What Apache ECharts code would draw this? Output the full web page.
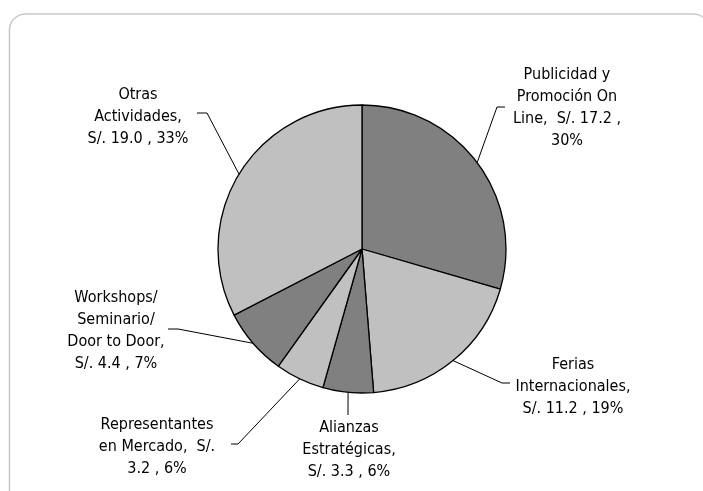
<!DOCTYPE html>
<html>
<head>
<meta charset="utf-8">
<script src="https://cdn.jsdelivr.net/npm/echarts@6/dist/echarts.min.js"></script>
<style>
  html, body { margin: 0; padding: 0; background: #fff; }
  #chart { width: 703px; height: 491px; }
</style>
</head>
<body>
<div id="chart"></div>
<script>
// datos
var categories = ['Publicidad y Promoción On Line', 'Ferias Internacionales', 'Alianzas Estratégicas',
                  'Representantes en Mercado', 'Workshops/ Seminario/ Door to Door', 'Otras Actividades'];
var values = [17.2, 11.2, 3.3, 3.2, 4.4, 19.0];
var percents = ['30%', '19%', '6%', '6%', '7%', '33%'];
var labelTexts = [
  'Publicidad y\nPromoción On\nLine,  S/. 17.2 ,\n30%',
  'Ferias\nInternacionales,\nS/. 11.2 , 19%',
  'Alianzas\nEstratégicas,\nS/. 3.3 , 6%',
  'Representantes\nen Mercado,  S/.\n3.2 , 6%',
  'Workshops/\nSeminario/\nDoor to Door,\nS/. 4.4 , 7%',
  'Otras\nActividades,\nS/. 19.0 , 33%'
];
var colors = ['#808080', '#c0c0c0', '#808080', '#c0c0c0', '#808080', '#c0c0c0'];

// posicion de cada etiqueta (centro) y de la linea guia
var labelPos = [
  { x: 567, y: 108, elbow: [497, 107], end: [505, 107] },
  { x: 573, y: 387, elbow: [502, 383], end: [510, 383] },
  { x: 349, y: 450, elbow: null, end: [348, 415] },
  { x: 157, y: 447, elbow: [238, 444], end: [231, 444] },
  { x: 116, y: 331, elbow: [178, 329], end: [168, 329] },
  { x: 138, y: 117, elbow: [207, 113], end: [197, 113] }
];

var seriesData = [];
for (var i = 0; i < categories.length; i++) {
  seriesData.push({
    name: categories[i],
    value: values[i],
    itemStyle: { color: colors[i] }
  });
}

var myChart = echarts.init(document.getElementById('chart'));
var option = {
  animation: false,
  graphic: [{
    type: 'rect',
    shape: { x: 9.5, y: 14, width: 700, height: 492, r: 16 },
    style: { fill: 'none', stroke: '#c8c8c8', lineWidth: 1.5 },
    silent: true
  }],
  series: [{
    type: 'pie',
    center: [362, 249],
    radius: 144,
    startAngle: 90,
    clockwise: true,
    data: seriesData,
    itemStyle: { borderColor: '#000', borderWidth: 1.3 },
    emphasis: { disabled: true },
    label: {
      show: true,
      position: 'outside',
      fontFamily: '"DejaVu Sans Condensed", "DejaVu Sans"',
      fontSize: 16,
      lineHeight: 22,
      color: '#000',
      align: 'center',
      formatter: function (p) { return labelTexts[p.dataIndex]; }
    },
    labelLine: {
      show: true,
      lineStyle: { color: '#000', width: 1 }
    },
    labelLayout: function (params) {
      var lp = labelPos[params.dataIndex];
      var start = params.labelLinePoints ? params.labelLinePoints[0] : lp.end;
      var pts = lp.elbow ? [start, lp.elbow, lp.end] : [start, lp.end];
      return {
        x: lp.x,
        y: lp.y,
        align: 'center',
        verticalAlign: 'middle',
        labelLinePoints: pts
      };
    }
  }]
};
myChart.setOption(option);
</script>
</body>
</html>
